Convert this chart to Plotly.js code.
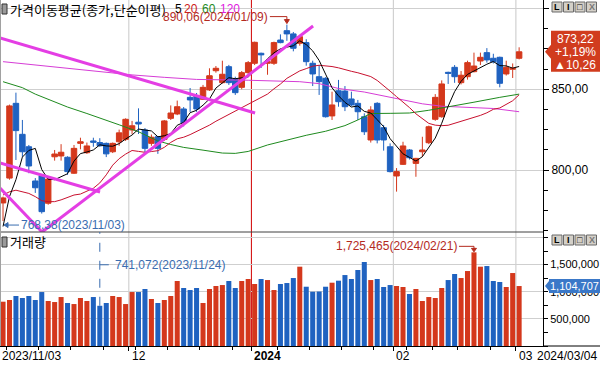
<!DOCTYPE html>
<html><head><meta charset="utf-8">
<script src="https://cdn.plot.ly/plotly-3.0.1.min.js"></script>
<style>html,body{margin:0;padding:0;background:#fff;}#chart{width:600px;height:366px;}</style>
</head><body><div id="chart"></div>
<script>
// ---------- data ----------
const dates = ["2023-11-03","2023-11-06","2023-11-07","2023-11-08","2023-11-09","2023-11-10","2023-11-13","2023-11-14","2023-11-15","2023-11-16","2023-11-17","2023-11-20","2023-11-21","2023-11-22","2023-11-23","2023-11-24","2023-11-27","2023-11-28","2023-11-29","2023-11-30",
"2023-12-01","2023-12-04","2023-12-05","2023-12-06","2023-12-07","2023-12-08","2023-12-11","2023-12-12","2023-12-13","2023-12-14","2023-12-15","2023-12-18","2023-12-19","2023-12-20","2023-12-21","2023-12-22","2023-12-26","2023-12-27","2023-12-28",
"2024-01-02","2024-01-03","2024-01-04","2024-01-05","2024-01-08","2024-01-09","2024-01-10","2024-01-11","2024-01-12","2024-01-15","2024-01-16","2024-01-17","2024-01-18","2024-01-19","2024-01-22","2024-01-23","2024-01-24","2024-01-25","2024-01-26","2024-01-29","2024-01-30","2024-01-31",
"2024-02-01","2024-02-02","2024-02-05","2024-02-06","2024-02-07","2024-02-08","2024-02-13","2024-02-14","2024-02-15","2024-02-16","2024-02-19","2024-02-20","2024-02-21","2024-02-22","2024-02-23","2024-02-26","2024-02-27","2024-02-28","2024-02-29",
"2024-03-04"];
const open = [779.6,795.0,841.3,822.1,814.4,793.2,796.5,779.4,808.2,808.7,807.9,798.0,816.5,810.7,818.0,817.0,816.5,811.3,817.5,819.0,
824.8,829.6,824.8,816.5,820.6,819.0,832.0,834.7,837.8,845.0,845.8,843.8,849.6,861.5,854.1,864.0,856.2,851.2,860.3,
866.1,872.3,866.1,866.1,880.5,886.3,884.3,878.5,878.9,866.1,857.8,856.8,833.5,849.1,848.9,844.0,841.3,833.0,818.6,841.3,826.2,814.4,
796.3,803.5,812.4,804.1,811.3,816.9,831.4,833.0,860.5,863.6,854.1,857.8,860.9,867.5,872.7,869.2,869.8,859.5,862.4,
869.2];
const high = [783.5,840.5,847.9,831.0,815.5,795.0,797.0,795.0,812.4,816.0,808.5,815.5,820.0,817.0,820.0,819.7,817.0,817.0,825.0,832.0,
830.4,838.2,826.0,822.0,821.0,831.0,840.0,843.0,839.0,850.8,847.7,852.7,863.0,864.4,867.7,865.1,857.8,861.3,867.5,
879.5,872.7,868.2,879.5,884.0,890.06,885.5,883.0,881.0,867.7,865.0,857.5,848.5,855.8,852.0,848.5,843.4,835.1,839.5,842.0,827.9,816.5,
801.2,817.5,813.0,807.5,820.6,827.5,847.0,855.5,860.9,865.0,861.3,867.7,872.7,872.7,875.5,872.0,870.2,867.7,866.0,
876.0];
const low = [768.38,794.0,806.2,808.2,798.0,785.8,773.0,778.5,805.8,805.8,797.0,797.6,812.8,810.0,814.4,814.4,808.0,810.5,815.0,818.0,
822.3,822.3,811.0,815.0,810.0,818.0,831.0,834.0,827.0,836.0,836.0,843.4,849.0,860.3,853.6,852.7,846.5,850.0,859.5,
865.0,863.2,859.0,865.1,878.5,880.0,873.5,877.0,864.6,852.0,846.5,832.5,831.0,839.2,836.5,839.5,831.0,821.7,817.0,816.5,812.0,798.5,
786.6,803.1,806.5,795.8,808.2,816.0,830.5,832.4,853.3,854.0,853.0,856.0,860.5,865.0,866.5,866.0,851.2,858.5,857.0,
868.5];
const close = [782.7,839.7,824.4,811.3,802.5,789.0,774.2,794.4,809.9,811.0,799.0,813.4,817.5,814.9,817.2,815.0,810.0,816.5,823.0,831.4,
827.4,828.5,813.4,820.3,813.4,830.4,835.3,839.2,829.2,843.4,837.8,851.2,858.4,863.0,859.3,854.1,847.9,860.3,866.5,
879.1,871.3,867.1,878.9,878.9,884.3,875.4,882.6,867.1,859.5,854.7,833.0,840.3,842.3,839.2,840.3,836.1,823.7,837.2,818.6,818.6,799.0,
799.0,814.9,807.6,807.2,812.4,826.8,845.0,853.3,859.9,857.8,858.7,866.5,864.4,869.8,868.2,867.1,853.7,863.6,862.96,
873.22];
const volume = [816000,847000,921000,884000,921000,847000,994000,829000,810000,902000,792000,773000,884000,829000,902000,741072,792000,921000,902000,773000,
994000,994000,1050000,866000,792000,847000,921000,1197000,1068000,1031000,1068000,792000,1050000,1105000,1123000,1197000,1068000,1197000,1234000,
1142000,1234000,1215000,1031000,1142000,1160000,1252000,1461000,1092000,1000000,1004000,1092000,1166000,1203000,1307000,1234000,1400000,1547000,1215000,1234000,1087000,1123000,
1105000,1087000,958000,1050000,829000,902000,884000,1068000,1215000,1326000,1252000,1381000,1725465,1461000,1473000,1197000,1179000,1087000,1344000,
1104707];
const ma5Head = [765.0,783.5,794.0,808.0];
const ma20Head = [784.5,786.5,787.5,786.5,785.5,783.5,781.0,780.4,780.4,781.5,783.0,784.5,785.1,787.0,788.7,792.0,797.0,803.0,807.0];
const ma60Idx = [0,3,5,7,10,13,16,18,21,24,26,28,31,34,36,38,41,44,47,50,53,55,57,60,63,66,69,73,77,80];
const ma60Val = [854.7,851.0,847.0,843.8,839.0,835.0,831.0,828.0,823.7,818.0,815.8,814.0,812.3,810.5,810.3,811.5,815.5,818.6,821.5,824.0,827.5,831.0,835.0,835.1,835.3,837.0,839.0,842.0,845.0,847.0];
const ma120Idx = [0,5,10,15,20,25,30,38,46,49,52,56,59,62,65,68,72,76,80];
const ma120Val = [867.1,865.0,863.0,860.9,858.9,857.4,856.1,855.6,854.7,853.5,850.5,848.3,845.8,843.5,841.0,839.5,838.8,838.1,836.1];
// user-drawn trend lines (candle index, price)
const trendStartIdx = [-0.47,-0.47,6.05,-0.47];
const trendStartPrice = [881.8,804.3,761.6,788.8];
const trendEndIdx = [39.07,15.04,48.06,6.05];
const trendEndPrice = [835.3,786.4,889.2,761.6];
// axis ticks
const priceTickVals = [800,850,900];
const priceTickText = ['800,00','850,00',''];
const volTickVals = [500000,1000000,1500000,2000000];
const volTickText = ['500,000','1,000,000','1,500,000',''];
const titleText = '가격이동평균(종가,단순이평)';
const volTitleText = '거래량';
const maLabels = ['5','20','60','120'];

// ---------- styling ----------
const RED='#d4381c', BLUE='#1f62c0';
const C5='#000000', C20='#c8102e', C60='#1e8a1e', C120='#d63cd6', TREND='#e43ee4';
const MA_LABEL_COLORS=['#000000','#cc2020','#1e8a1e','#e020e0'];
const MA_LABEL_X=[173,182,200,218];
const NUMF='Liberation Sans, Arial, sans-serif', KRF='Noto Sans CJK KR, sans-serif';
const PW=543, PH=346, SPLIT_PX=232;
const splitY=(PH-SPLIT_PX)/PH;
const pX = x=>x/PW, pY = y=>(PH-y)/PH;

const idx = dates.map((d,i)=>i);
function sma(n, head){ return close.map((c,i)=> i<n-1 ? head[i] : close.slice(i-n+1,i+1).reduce((a,b)=>a+b,0)/n); }
const ma5 = sma(5, ma5Head), ma20 = sma(20, ma20Head);
const fmt2 = v=>v.toFixed(2).replace('.',',');
const fmtInt = v=>Math.round(v).toString().replace(/\B(?=(\d{3})+(?!\d))/g,',');
const fmtDate = d=>d.replace(/-/g,'/');
const up = idx.map(i=>close[i]>=open[i]);

const traces = [];
traces.push({type:'scatter',mode:'lines',x:ma120Idx,y:ma120Val,line:{color:C120,width:1},hoverinfo:'skip'});
traces.push({type:'scatter',mode:'lines',x:ma60Idx,y:ma60Val,line:{color:C60,width:1},hoverinfo:'skip'});
traces.push({type:'scatter',mode:'lines',x:idx,y:ma20,line:{color:C20,width:1},hoverinfo:'skip'});
traces.push({type:'scatter',mode:'lines',x:idx,y:ma5,line:{color:C5,width:1},hoverinfo:'skip'});
traces.push({type:'candlestick',x:idx,open:open,high:high,low:low,close:close,
  increasing:{line:{color:RED,width:1},fillcolor:RED},decreasing:{line:{color:BLUE,width:1},fillcolor:BLUE},
  whiskerwidth:0,hoverinfo:'skip'});
for(let k=0;k<trendStartIdx.length;k++){
  traces.push({type:'scatter',mode:'lines',x:[trendStartIdx[k],trendEndIdx[k]],y:[trendStartPrice[k],trendEndPrice[k]],line:{color:TREND,width:3},hoverinfo:'skip'});
}
traces.push({type:'bar',x:idx,y:volume,yaxis:'y2',marker:{color:idx.map(i=>up[i]?RED:BLUE),line:{width:0}},hoverinfo:'skip'});

// date based positions
const monthStarts=[]; for(let i=1;i<dates.length;i++) if(dates[i].slice(5,7)!==dates[i-1].slice(5,7)) monthStarts.push(i);
const weekStarts=[]; for(let i=1;i<dates.length;i++){ const a=new Date(dates[i-1]+'T00:00:00Z'), b=new Date(dates[i]+'T00:00:00Z'); if(b.getUTCDay()<=a.getUTCDay()||(b-a)>=7*864e5) weekStarts.push(i-0.5); }

const shapes=[], annotations=[];
monthStarts.forEach(i=>{
  const yearChange = dates[i].slice(0,4)!==dates[i-1].slice(0,4);
  shapes.push({type:'line',xref:'x',yref:'paper',x0:i-0.5,x1:i-0.5,y0:0,y1:1,line:{color:yearChange?'#d00000':'#c8c8c8',width:1},layer:'below'});
  const m = dates[i].slice(5,7);
  annotations.push({xref:'x',yref:'paper',x:i-0.5,y:pY(356),xanchor:'left',yanchor:'middle',xshift:1,showarrow:false,
    text: yearChange?'<b>'+dates[i].slice(0,4)+'</b>':m, font:{family:NUMF,size:12,color:'#000'}});
});
annotations.push({xref:'paper',yref:'paper',x:0,y:pY(356),xanchor:'left',yanchor:'middle',xshift:0,showarrow:false,text:fmtDate(dates[0]),font:{family:NUMF,size:12,color:'#000'}});
annotations.push({xref:'paper',yref:'paper',x:pX(600),y:pY(356),xanchor:'right',yanchor:'middle',xshift:-1,showarrow:false,text:fmtDate(dates[dates.length-1]),font:{family:NUMF,size:12,color:'#000'}});

// frame lines
shapes.push({type:'line',xref:'paper',yref:'paper',x0:0,x1:1,y0:splitY,y1:splitY,line:{color:'#404040',width:1}});
shapes.push({type:'line',xref:'paper',yref:'paper',x0:1,x1:pX(600),y0:0,y1:0,line:{color:'#000',width:1}});
shapes.push({type:'line',xref:'paper',yref:'paper',x0:0.0009,x1:0.0009,y0:0,y1:1,line:{color:'#a0a0a0',width:1}});

// panel titles
function panelIcon(yTop){ shapes.push({type:'rect',xref:'paper',yref:'paper',x0:pX(2),x1:pX(7),y0:pY(yTop+10),y1:pY(yTop),fillcolor:'#9a9a9a',line:{color:'#333',width:1}}); }
panelIcon(4); panelIcon(237);
annotations.push({xref:'paper',yref:'paper',x:pX(8),y:pY(9.5),xanchor:'left',yanchor:'middle',showarrow:false,
  text:titleText,font:{family:KRF,size:13,color:'#000'}});
maLabels.forEach((t,k)=>{
  annotations.push({xref:'paper',yref:'paper',x:pX(MA_LABEL_X[k]),y:pY(9),xanchor:'left',yanchor:'middle',showarrow:false,
    text:t,font:{family:NUMF,size:12,color:MA_LABEL_COLORS[k]}});
});
annotations.push({xref:'paper',yref:'paper',x:pX(8),y:pY(242),xanchor:'left',yanchor:'middle',showarrow:false,text:volTitleText,font:{family:KRF,size:13,color:'#000'}});

// buttons
function buttons(yTop){
  const labels=['L','I','□','X'];
  [552,563.5,575,586.5].forEach((x,k)=>{
    shapes.push({type:'rect',xref:'paper',yref:'paper',x0:pX(x),x1:pX(x+10),y0:pY(yTop+10),y1:pY(yTop),fillcolor:'#d4d0c8',line:{color:'#6a6a6a',width:1}});
    annotations.push({xref:'paper',yref:'paper',x:pX(x+5),y:pY(yTop+5),xanchor:'center',yanchor:'middle',showarrow:false,text:'<b>'+labels[k]+'</b>',font:{family:NUMF,size:9,color:k===3?'#777':'#000'}});
  });
}
buttons(2); buttons(235);

// current price box
const last=close.length-1, chg=close[last]-close[last-1], pct=chg/close[last-1]*100;
shapes.push({type:'path',xref:'paper',xsizemode:'pixel',xanchor:1,yref:'y',ysizemode:'pixel',yanchor:close[last],
  path:'M 2 0 L 8 7 L 8 21 L 57 21 L 57 -20 L 8 -20 L 8 -7 Z',fillcolor:'#d13c1e',line:{width:0}});
[[fmt2(close[last]),13],[(chg>=0?'+':'')+fmt2(pct)+'%',0],[(chg>=0?'▲':'▼')+fmt2(Math.abs(chg)),-13]].forEach(([t,s])=>{
  annotations.push({xref:'paper',yref:'y',x:pX(575),y:close[last],yshift:s,xanchor:'center',yanchor:'middle',showarrow:false,text:t,font:{family:NUMF,size:12,color:'#fff'}});
});
// current volume box
shapes.push({type:'path',xref:'paper',xsizemode:'pixel',xanchor:1,yref:'y2',ysizemode:'pixel',yanchor:volume[last],
  path:'M 2 0 L 6 5 L 6 7 L 57 7 L 57 -7 L 6 -7 L 6 -5 Z',fillcolor:'#3a78c8',line:{width:0}});
annotations.push({xref:'paper',yref:'y2',x:pX(574),y:volume[last],xanchor:'center',yanchor:'middle',showarrow:false,text:fmtInt(volume[last]),font:{family:NUMF,size:11,color:'#fff'}});

// high / low markers
const DR='#b42a1e', BL='#3a6db0';
const iMax = high.indexOf(Math.max(...high)), iMin = low.indexOf(Math.min(...low));
annotations.push({xref:'x',yref:'y',x:iMax,y:high[iMax],xanchor:'right',yanchor:'middle',xshift:-17,yshift:8,showarrow:false,text:fmt2(high[iMax])+'('+fmtDate(dates[iMax])+')',font:{family:NUMF,size:12,color:DR}});
shapes.push({type:'path',xref:'x',xsizemode:'pixel',xanchor:iMax,yref:'y',ysizemode:'pixel',yanchor:high[iMax],path:'M -17 8 L 0 8 L 0 4',line:{color:DR,width:1}});
shapes.push({type:'path',xref:'x',xsizemode:'pixel',xanchor:iMax,yref:'y',ysizemode:'pixel',yanchor:high[iMax],path:'M -2.5 5 L 2.5 5 L 0 1 Z',fillcolor:DR,line:{color:DR,width:1}});
annotations.push({xref:'x',yref:'y',x:iMin,y:low[iMin],xanchor:'left',yanchor:'middle',xshift:16,yshift:-4,showarrow:false,text:fmt2(low[iMin])+'('+fmtDate(dates[iMin])+')',font:{family:NUMF,size:12,color:BL}});
shapes.push({type:'path',xref:'x',xsizemode:'pixel',xanchor:iMin,yref:'y',ysizemode:'pixel',yanchor:low[iMin],path:'M 16 -4 L 2 -4',line:{color:BL,width:1}});
shapes.push({type:'path',xref:'x',xsizemode:'pixel',xanchor:iMin,yref:'y',ysizemode:'pixel',yanchor:low[iMin],path:'M 1 -4 L 5 -1.5 L 5 -6.5 Z',fillcolor:BL,line:{color:BL,width:1}});
const vMax = Math.max(...volume), vMin = Math.min(...volume);
const ivMax = volume.indexOf(vMax), ivMin = volume.indexOf(vMin);
annotations.push({xref:'x',yref:'y2',x:ivMax,y:vMax,xanchor:'right',yanchor:'middle',xshift:-15,yshift:6,showarrow:false,text:fmtInt(vMax)+'('+fmtDate(dates[ivMax])+')',font:{family:NUMF,size:12,color:DR}});
shapes.push({type:'path',xref:'x',xsizemode:'pixel',xanchor:ivMax,yref:'y2',ysizemode:'pixel',yanchor:vMax,path:'M -15 6 L 0 6 L 0 3',line:{color:DR,width:1}});
shapes.push({type:'path',xref:'x',xsizemode:'pixel',xanchor:ivMax,yref:'y2',ysizemode:'pixel',yanchor:vMax,path:'M -2.5 4 L 2.5 4 L 0 0.5 Z',fillcolor:DR,line:{color:DR,width:1}});
shapes.push({type:'line',xref:'x',yref:'y2',x0:ivMin,x1:ivMin,y0:vMin,y1:2100000,line:{color:BL,width:1,dash:'dash'}});
shapes.push({type:'line',xref:'x',xsizemode:'pixel',xanchor:ivMin,x0:0,x1:12,yref:'y2',ysizemode:'pixel',yanchor:vMin,y0:41,y1:41,line:{color:BL,width:1,dash:'dash'}});
annotations.push({xref:'x',yref:'y2',x:ivMin,y:vMin,xanchor:'left',yanchor:'middle',xshift:13,yshift:41,showarrow:false,text:fmtInt(vMin)+'('+fmtDate(dates[ivMin])+')',font:{family:NUMF,size:12,color:BL}});

const axY = {side:'right',anchor:'x',zeroline:false,showline:true,linecolor:'#000',linewidth:1,showgrid:true,gridcolor:'#cfcfcf',gridwidth:1,
  ticks:'outside',ticklen:5,tickcolor:'#000',tickmode:'array',tickfont:{family:NUMF,size:12,color:'#000'},fixedrange:true};
const layout = {
  width:600,height:366,margin:{l:0,r:57,t:0,b:20,pad:0},
  paper_bgcolor:'#fff',plot_bgcolor:'#fff',showlegend:false,
  boxgap:0.15,boxgroupgap:0,bargap:0.22,
  xaxis:{type:'linear',range:[-0.47,83.7],anchor:'y2',showgrid:false,zeroline:false,showline:true,linecolor:'#000',linewidth:1,
    ticks:'outside',ticklen:4,tickcolor:'#000',tickmode:'array',tickvals:monthStarts.map(i=>i-0.5),showticklabels:false,
    minor:{tickmode:'array',tickvals:weekStarts,ticks:'outside',ticklen:3,tickcolor:'#000',showgrid:false},
    rangeslider:{visible:false},fixedrange:true},
  yaxis:Object.assign({},axY,{domain:[splitY,1],range:[761.6,905.3],tickvals:priceTickVals,ticktext:priceTickText,
    minor:{dtick:12.5,tick0:800,ticks:'outside',ticklen:4,tickcolor:'#000',showgrid:false}}),
  yaxis2:Object.assign({},axY,{domain:[0,splitY],range:[0,2100000],tickvals:volTickVals,ticktext:volTickText,ticklen:4,
    tickfont:{family:NUMF,size:11,color:'#000'},
    minor:{dtick:250000,tick0:0,ticks:'outside',ticklen:4,tickcolor:'#000',showgrid:false}}),
  shapes:shapes,annotations:annotations
};
Plotly.newPlot('chart',traces,layout,{staticPlot:true,displayModeBar:false});
</script></body></html>
